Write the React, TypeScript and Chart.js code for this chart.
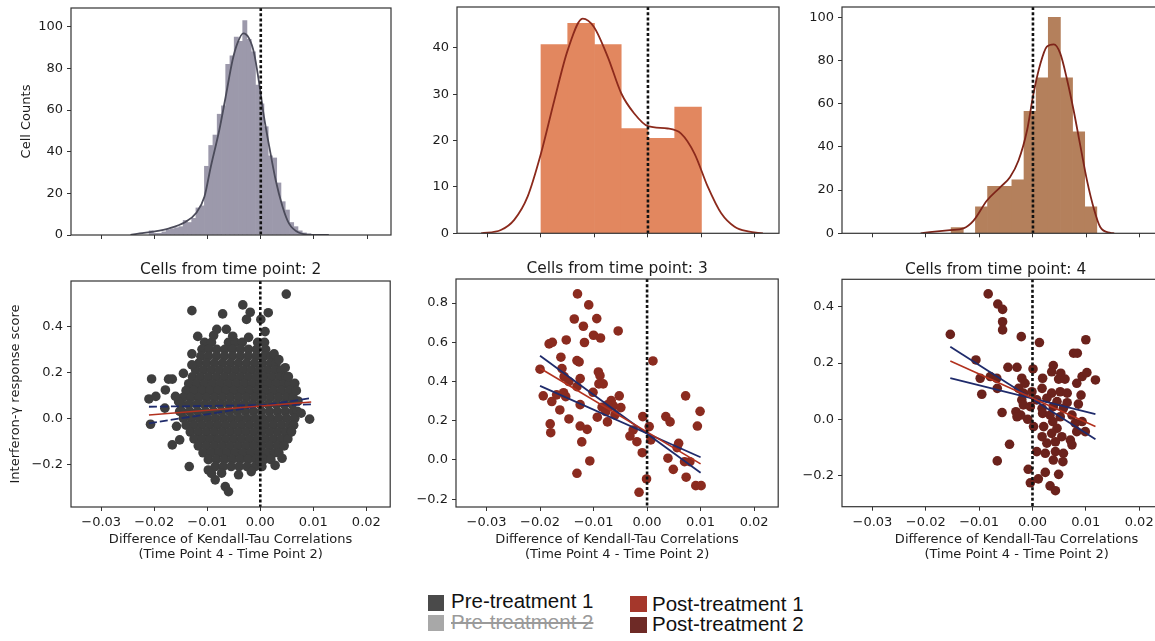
import React, { useEffect, useRef } from "react";
import { Chart, registerables } from "chart.js";

Chart.register(...registerables);

const FONT = '"DejaVu Sans", sans-serif';
const TXT = "#1c1c1c";
const AX = "#333333";

// ---------- shared axis ticks ----------
const xTickValues = [-0.03, -0.02, -0.01, 0, 0.01, 0.02];
const xMin = -0.0357;
const xMax = 0.0245;

const countTicksTp2 = [0, 20, 40, 60, 80, 100];
const countTicksTp3 = [0, 10, 20, 30, 40];
const countTicksTp4 = [0, 20, 40, 60, 80, 100];
const scoreTicksTp2 = [-0.2, 0, 0.2, 0.4];
const scoreTicksTp3 = [-0.2, 0, 0.2, 0.4, 0.6, 0.8];
const scoreTicksTp4 = [-0.2, 0, 0.2, 0.4];

// ---------- histograms (bin centres / heights) ----------
const histTp2Centers = [
  -0.0206, -0.0198, -0.019, -0.0182, -0.0174, -0.0166, -0.0158, -0.015, -0.0142, -0.0134,
  -0.0126, -0.0118, -0.011, -0.0102, -0.0094, -0.0086, -0.0078, -0.007, -0.0062, -0.0054,
  -0.0046, -0.0038, -0.003, -0.0022, -0.0014, -0.0006, 0.0002, 0.001, 0.0018, 0.0026,
  0.0034, 0.0042, 0.005, 0.0058, 0.0066, 0.0074, 0.0082, 0.009,
];
const histTp2Counts = [
  2, 0.8, 0.8, 1.5, 2.5, 3, 3.5, 4, 7, 6,
  8, 13, 14, 33, 43, 48, 58, 62, 82, 86,
  95, 93, 103, 94, 88, 72, 63, 52, 38, 37,
  25, 16, 12, 6, 4, 2, 1, 0.5,
];
const kdeTp2X = [
  -0.0245, -0.0228, -0.0203, -0.0172, -0.0141, -0.0122, -0.0106, -0.0094, -0.0078, -0.0066,
  -0.0053, -0.0044, -0.0033, -0.0022, -0.00125, -0.0003, 0.0006, 0.0016, 0.0028, 0.0041,
  0.0053, 0.0072, 0.0097, 0.0128,
];
const kdeTp2Y = [
  0, 0.8, 1.6, 3.2, 6.4, 10.4, 18.4, 32.8, 50.4, 66.4,
  84, 92, 96.8, 94.4, 87.2, 72.8, 56.8, 42.4, 26.4, 13.6,
  5.6, 1.1, 0.1, 0,
];

const histTp3Centers = [-0.0175, -0.0125, -0.0075, -0.0025, 0.0025, 0.0075];
const histTp3Counts = [40.7, 45.3, 40.7, 22.6, 20.5, 27.2];
const kdeTp3X = [
  -0.0312, -0.0275, -0.025, -0.0225, -0.02, -0.0175, -0.015, -0.0122, -0.0101, -0.0075,
  -0.005, -0.0026, 0, 0.0037, 0.0062, 0.0087, 0.0112, 0.0137, 0.0162, 0.0187, 0.0215,
];
const kdeTp3Y = [
  0, 0.7, 2.9, 7.9, 17.2, 28.7, 39.5, 46.3, 44.5, 38,
  30.2, 25.9, 23.1, 22.6, 21.5, 17.2, 10, 4.3, 1.4, 0.4, 0,
];

const histTp4Centers = [
  -0.01416, -0.01189, -0.00962, -0.00735, -0.00508, -0.00281, -0.00054, 0.00173, 0.004, 0.00627,
  0.00854, 0.01081,
];
const histTp4Counts = [2.6, 0, 12.3, 21.7, 21.7, 24.8, 56.5, 72, 100, 72, 47, 12.3];
const kdeTp4X = [
  -0.021, -0.0193, -0.0155, -0.013, -0.0111, -0.0086, -0.0061, -0.0043, -0.0027, -0.0011,
  0.0001, 0.0014, 0.0026, 0.0039, 0.0051, 0.0064, 0.0076, 0.0089, 0.0101, 0.0114,
  0.0126, 0.0145, 0.0152,
];
const kdeTp4Y = [
  0, 0.5, 1.5, 2.3, 5.9, 15.2, 21.4, 26, 33.7, 47.7,
  64.7, 78.6, 86.4, 87.5, 83.3, 70.9, 57, 40, 24.5, 11.3,
  2.8, 0.2, 0,
];

// ---------- scatter points ----------
const tp2Outliers = [
  [0.0049, 0.54], [-0.0129, 0.468], [-0.0071, 0.454], [-0.0033, 0.493], [-0.0019, 0.461],
  [0.0015, 0.459], [-0.0026, 0.43], [0.0001, 0.43], [-0.0082, 0.387], [-0.0064, 0.387],
  [0.0009, 0.377], [-0.0129, 0.28], [-0.0129, 0.232], [0.0026, 0.28], [-0.0205, 0.171],
  [-0.0173, 0.17], [-0.0166, 0.17], [0.0065, 0.152], [0.0053, 0.181], [-0.0179, 0.123],
  [-0.021, 0.084], [0.0093, -0.004], [0.0059, -0.058], [-0.0166, -0.116], [-0.0152, -0.094],
  [-0.0134, -0.21], [0.0041, -0.174], [-0.0085, -0.268], [-0.0066, -0.297], [-0.006, -0.319],
  [-0.0098, -0.225], [-0.0073, -0.239], [-0.0041, -0.246], [-0.0017, -0.232], [-0.0001, -0.189],
  [-0.018, 0.044], [-0.0207, -0.026], [0.0077, 0.022], [-0.0197, 0.095], [-0.0154, 0.072],
  [-0.016, 0.095], [-0.0118, 0.356], [-0.0088, 0.36], [-0.0052, 0.357], [-0.0022, 0.352],
  [-0.0092, -0.24], [0.0028, -0.205], [0.0071, 0.075], [0.0068, 0.12], [-0.0158, -0.035],
  [-0.0152, 0.03], [-0.0145, 0.195], [0.0047, 0.22], [0.0035, 0.255],
];
const tp2CoreRows: [number, number[]][] = [
  [0.33, [-0.0105, -0.0092, -0.006, -0.0047, -0.0034, -0.0005, 0.0008]],
  [0.3, [-0.011, -0.0097, -0.0082, -0.0067, -0.0052, -0.0037, -0.0022, -0.0007, 0.001]],
  [0.27, [-0.0112, -0.0098, -0.0083, -0.0068, -0.0053, -0.0038, -0.0023, -0.0008, 0.0007, 0.002]],
  [0.24, [-0.0116, -0.0101, -0.0086, -0.0071, -0.0056, -0.0041, -0.0026, -0.0011, 0.0004, 0.0019, 0.003]],
  [0.21, [-0.0122, -0.0107, -0.0092, -0.0077, -0.0062, -0.0047, -0.0032, -0.0017, -0.0002, 0.0013, 0.0028, 0.004]],
  [0.18, [-0.0128, -0.0113, -0.0098, -0.0083, -0.0068, -0.0053, -0.0038, -0.0023, -0.0008, 0.0007, 0.0022, 0.0037, 0.0048]],
  [0.15, [-0.0135, -0.012, -0.0105, -0.009, -0.0075, -0.006, -0.0045, -0.003, -0.0015, 0, 0.0015, 0.003, 0.0045, 0.0055]],
  [0.12, [-0.014, -0.0125, -0.011, -0.0095, -0.008, -0.0065, -0.005, -0.0035, -0.002, -0.0005, 0.001, 0.0025, 0.004, 0.0055]],
  [0.09, [-0.0146, -0.0131, -0.0116, -0.0101, -0.0086, -0.0071, -0.0056, -0.0041, -0.0026, -0.0011, 0.0004, 0.0019, 0.0034, 0.0049, 0.0062]],
  [0.06, [-0.015, -0.0135, -0.012, -0.0105, -0.009, -0.0075, -0.006, -0.0045, -0.003, -0.0015, 0, 0.0015, 0.003, 0.0045, 0.006]],
  [0.03, [-0.0148, -0.0133, -0.0118, -0.0103, -0.0088, -0.0073, -0.0058, -0.0043, -0.0028, -0.0013, 0.0002, 0.0017, 0.0032, 0.0047, 0.0062, 0.007]],
  [0.0, [-0.0145, -0.013, -0.0115, -0.01, -0.0085, -0.007, -0.0055, -0.004, -0.0025, -0.001, 0.0005, 0.002, 0.0035, 0.005, 0.0065]],
  [-0.03, [-0.014, -0.0125, -0.011, -0.0095, -0.008, -0.0065, -0.005, -0.0035, -0.002, -0.0005, 0.001, 0.0025, 0.004, 0.0055, 0.0063]],
  [-0.06, [-0.0132, -0.0117, -0.0102, -0.0087, -0.0072, -0.0057, -0.0042, -0.0027, -0.0012, 0.0003, 0.0018, 0.0033, 0.0048, 0.0058]],
  [-0.09, [-0.0125, -0.011, -0.0095, -0.008, -0.0065, -0.005, -0.0035, -0.002, -0.0005, 0.001, 0.0025, 0.004, 0.0052]],
  [-0.12, [-0.0117, -0.0102, -0.0087, -0.0072, -0.0057, -0.0042, -0.0027, -0.0012, 0.0003, 0.0018, 0.0033, 0.0045]],
  [-0.15, [-0.0108, -0.0093, -0.0078, -0.0063, -0.0048, -0.0033, -0.0018, -0.0003, 0.0012, 0.0027, 0.0035]],
  [-0.18, [-0.0098, -0.0083, -0.0068, -0.0053, -0.0038, -0.0023, -0.0008, 0.0007, 0.002]],
  [-0.21, [-0.0085, -0.007, -0.0055, -0.004, -0.0025, -0.001, 0.0003]],
];

const tp3Points = [
  [-0.013, 0.847], [-0.0109, 0.791], [-0.0136, 0.719], [-0.0094, 0.721], [-0.0119, 0.682],
  [-0.0054, 0.658], [-0.01, 0.636], [-0.0087, 0.622], [-0.0183, 0.592], [-0.0177, 0.6],
  [-0.0151, 0.612], [-0.0117, 0.599], [-0.0161, 0.524], [-0.0131, 0.507], [-0.0127, 0.5],
  [0.0011, 0.505], [-0.02, 0.463], [-0.0159, 0.466], [-0.0091, 0.449], [-0.0088, 0.43],
  [-0.0155, 0.425], [-0.0125, 0.415], [-0.0146, 0.4], [-0.009, 0.388], [-0.0082, 0.388],
  [-0.0131, 0.374], [-0.0101, 0.345], [-0.0194, 0.327], [-0.0156, 0.343], [-0.0152, 0.323],
  [-0.0169, 0.332], [-0.0052, 0.327], [-0.0178, 0.298], [-0.0067, 0.303], [-0.0125, 0.282],
  [-0.0063, 0.276], [-0.0049, 0.267], [-0.0084, 0.269], [-0.0163, 0.255], [-0.0077, 0.247],
  [-0.0093, 0.218], [-0.0146, 0.209], [-0.0074, 0.194], [-0.0181, 0.184], [-0.0125, 0.173],
  [-0.0112, 0.156], [-0.018, 0.139], [-0.0008, 0.221], [0.0035, 0.221], [0.0043, 0.194],
  [0.0004, 0.17], [-0.0026, 0.153], [-0.0032, 0.122], [-0.0019, 0.093], [0.0007, 0.102],
  [-0.0122, 0.092], [-0.0009, 0.037], [0.0072, 0.327], [0.0099, 0.248], [0.0094, 0.173],
  [0.0059, 0.085], [0.0056, 0.063], [0.0039, 0.009], [0.0049, -0.048], [0.007, -0.009],
  [0.008, -0.009], [0.0073, -0.088], [-0.0107, -0.005], [-0.0131, -0.068], [-0.0001, -0.097],
  [-0.0015, -0.165], [0.0091, -0.131], [0.0101, -0.131], [-0.0074, 0.281], [-0.006, 0.23],
];

const tp4Points = [
  [-0.0083, 0.446], [-0.0065, 0.41], [-0.0056, 0.391], [-0.0056, 0.347], [-0.0056, 0.318],
  [-0.0154, 0.302], [-0.0021, 0.294], [0.0013, 0.273], [0.01, 0.283], [0.0077, 0.235],
  [0.0084, 0.235], [-0.0106, 0.211], [-0.0046, 0.185], [-0.0029, 0.185], [0.0001, 0.179],
  [0.0039, 0.191], [0.0036, 0.169], [0.0053, 0.164], [-0.0098, 0.146], [-0.0079, 0.152],
  [-0.0067, 0.146], [-0.002, 0.146], [-0.0014, 0.128], [0.0019, 0.146], [0.0049, 0.143],
  [0.0061, 0.143], [0.0093, 0.152], [0.0102, 0.166], [0.0118, 0.14], [-0.0095, 0.089],
  [-0.0066, 0.11], [-0.0026, 0.11], [-0.0017, 0.093], [-0.0001, 0.098], [0.0018, 0.11],
  [0.0036, 0.093], [0.0052, 0.098], [0.0065, 0.093], [0.0083, 0.128], [0.0091, 0.086],
  [-0.002, 0.069], [0.0008, 0.069], [0.0027, 0.075], [0.0046, 0.063], [0.0065, 0.059],
  [0.0086, 0.054], [-0.0017, 0.051], [-0.0004, 0.045], [0.0018, 0.039], [0.0039, 0.045],
  [0.0058, 0.039], [-0.0057, 0.024], [-0.0031, 0.027], [-0.0022, 0.015], [-0.0009, 0.0],
  [0.0019, 0.021], [0.0033, 0.015], [0.0052, 0.009], [0.0074, 0.015], [0.0093, -0.008],
  [0.0083, -0.044], [0.0099, -0.044], [0.0002, -0.026], [0.0021, -0.026], [0.0038, -0.008],
  [0.0046, -0.032], [0.0018, -0.062], [0.0036, -0.05], [0.0055, -0.062], [0.0027, -0.085],
  [0.0043, -0.08], [0.0071, -0.074], [0.0074, -0.091], [0.0008, -0.115], [0.0024, -0.121],
  [0.0043, -0.115], [0.0058, -0.121], [0.0039, -0.145], [0.0057, -0.151], [-0.0043, -0.089],
  [-0.0066, -0.148], [-0.0008, -0.178], [0.0011, -0.212], [0.0024, -0.189], [0.0049, -0.196],
  [-0.0004, -0.226], [0.0033, -0.237], [0.0043, -0.254], [0.008, -0.014], [-0.0029, 0.009],
];

// ---------- regression fit & bound lines (end points) ----------
const tp2FitLine = [[-0.021, 0.014], [0.0096, 0.071]];
const tp2BoundA = [[-0.021, 0.05], [0.0096, 0.06]];
const tp2BoundB = [[-0.021, -0.022], [0.0096, 0.088]];
const tp3FitLine = [[-0.02, 0.468], [0.01, -0.02]];
const tp3BoundA = [[-0.02, 0.531], [0.01, -0.065]];
const tp3BoundB = [[-0.02, 0.378], [0.01, 0.014]];
const tp4FitLine = [[-0.0154, 0.207], [0.0118, -0.026]];
const tp4BoundA = [[-0.0154, 0.258], [0.0118, -0.071]];
const tp4BoundB = [[-0.0154, 0.146], [0.0118, 0.018]];

// ---------- text ----------
const panelTitles = ["Cells from time point: 2", "Cells from time point: 3", "Cells from time point: 4"];
const xAxisLabel = ["Difference of Kendall-Tau Correlations", "(Time Point 4 - Time Point 2)"];
const histYLabel = "Cell Counts";
const scatterYLabel = "Interferon-\u03b3 response score";

// ---------- colours ----------
const RED_LINE = "#b2311e";
const BLUE_LINE = "#1f2b6b";

function fmt(v: number, d: number) {
  const s = Math.abs(v) < 1e-12 ? (0).toFixed(d) : v.toFixed(d);
  return s.replace("-", "\u2212");
}

const tickFont = { family: FONT, size: 13, lineHeight: 1.2 };

function xScale(showLabels: boolean, height: number) {
  return {
    type: "linear",
    position: "bottom",
    min: xMin,
    max: xMax,
    bounds: "data",
    offset: false,
    afterBuildTicks: (s: any) => {
      s.ticks = xTickValues.map((v) => ({ value: v }));
    },
    afterFit: (s: any) => {
      s.height = height;
      s.paddingLeft = 0;
      s.paddingRight = 0;
      s.paddingTop = 0;
      s.paddingBottom = 0;
    },
    grid: { display: true, drawOnChartArea: false, drawTicks: true, tickLength: 4, color: AX, lineWidth: 1, offset: false },
    border: { display: false },
    ticks: {
      display: showLabels,
      autoSkip: false,
      maxRotation: 0,
      padding: 4,
      color: TXT,
      font: tickFont,
      callback: (v: any) => fmt(Number(v), 2),
    },
  };
}

function yScale(min: number, max: number, ticks: number[], digits: number, width: number) {
  return {
    type: "linear",
    position: "left",
    min,
    max,
    bounds: "data",
    afterBuildTicks: (s: any) => {
      s.ticks = ticks.map((v) => ({ value: v }));
    },
    afterFit: (s: any) => {
      s.width = width;
      s.paddingLeft = 0;
      s.paddingRight = 0;
      s.paddingTop = 0;
      s.paddingBottom = 0;
    },
    grid: { display: true, drawOnChartArea: false, drawTicks: true, tickLength: 4, color: AX, lineWidth: 1 },
    border: { display: false },
    ticks: {
      autoSkip: false,
      padding: 4,
      color: TXT,
      font: tickFont,
      callback: (v: any) => fmt(Number(v), digits),
    },
  };
}

type LabelCfg = {
  title?: string;
  titleGap?: number;
  titleDx?: number;
  xLabel?: string[];
  xLabelDx?: number;
  yLabel?: string;
  yLabelGap?: number;
};

function makePlugins(lbl: LabelCfg) {
  const zeroLine = {
    id: "zeroLine",
    afterDatasetsDraw(chart: any) {
      const { ctx, chartArea: a } = chart;
      const x = chart.scales.x.getPixelForValue(0);
      ctx.save();
      ctx.strokeStyle = "#111111";
      ctx.lineWidth = 2.6;
      ctx.setLineDash([3, 2.2]);
      ctx.beginPath();
      ctx.moveTo(x, a.top);
      ctx.lineTo(x, a.bottom);
      ctx.stroke();
      ctx.restore();
    },
  };
  const frame = {
    id: "frame",
    afterDraw(chart: any) {
      const { ctx, chartArea: a } = chart;
      ctx.save();
      ctx.strokeStyle = AX;
      ctx.lineWidth = 1.2;
      ctx.strokeRect(a.left, a.top, a.right - a.left, a.bottom - a.top);
      ctx.restore();
    },
  };
  const labels = {
    id: "panelLabels",
    afterDraw(chart: any) {
      const { ctx, chartArea: a } = chart;
      const cx = (a.left + a.right) / 2;
      ctx.save();
      ctx.fillStyle = TXT;
      ctx.textAlign = "center";
      ctx.textBaseline = "middle";
      if (lbl.title) {
        ctx.font = `15.4px ${FONT}`;
        ctx.fillText(lbl.title, cx + (lbl.titleDx || 0), a.top - (lbl.titleGap || 11));
      }
      if (lbl.xLabel) {
        ctx.font = `13px ${FONT}`;
        lbl.xLabel.forEach((line, i) => {
          ctx.fillText(line, cx + (lbl.xLabelDx || 0), a.bottom + 32.6 + i * 15.5);
        });
      }
      if (lbl.yLabel) {
        ctx.font = `13px ${FONT}`;
        ctx.translate(a.left - (lbl.yLabelGap || 44), (a.top + a.bottom) / 2);
        ctx.rotate(-Math.PI / 2);
        ctx.fillText(lbl.yLabel, 0, 0);
      }
      ctx.restore();
    },
  };
  return [zeroLine, frame, labels];
}

function baseOptions(padding: any, scales: any) {
  return {
    responsive: false,
    animation: false,
    events: [],
    layout: { padding },
    plugins: { legend: { display: false }, tooltip: { enabled: false }, title: { display: false } },
    scales,
  };
}

function histConfig(p: {
  centers: number[];
  counts: number[];
  kdeX: number[];
  kdeY: number[];
  barColor: string;
  lineColor: string;
  yMax: number;
  yTicks: number[];
  yWidth: number;
  padding: any;
  labels: LabelCfg;
}) {
  return {
    type: "bar",
    data: {
      datasets: [
        {
          type: "line",
          data: p.kdeX.map((x, i) => ({ x, y: p.kdeY[i] })),
          borderColor: p.lineColor,
          borderWidth: 1.8,
          pointRadius: 0,
          cubicInterpolationMode: "monotone",
          fill: false,
          order: 0,
        },
        {
          type: "bar",
          data: p.centers.map((x, i) => ({ x, y: p.counts[i] })),
          backgroundColor: p.barColor,
          borderWidth: 0,
          barPercentage: 1,
          categoryPercentage: 1,
          grouped: false,
          order: 1,
        },
      ],
    },
    options: baseOptions(p.padding, {
      x: xScale(false, 12),
      y: yScale(0, p.yMax, p.yTicks, 0, p.yWidth),
    }),
    plugins: makePlugins(p.labels),
  };
}

function linePts(pts: number[][]) {
  return pts.map(([x, y]) => ({ x, y }));
}

function scatterConfig(p: {
  points: number[][];
  color: string;
  fit: number[][];
  boundA: number[][];
  boundB: number[][];
  dashBounds: boolean;
  yMin: number;
  yMax: number;
  yTicks: number[];
  yWidth: number;
  padding: any;
  labels: LabelCfg;
}) {
  const dash = p.dashBounds ? [8, 3] : [];
  return {
    type: "scatter",
    data: {
      datasets: [
        { data: linePts(p.fit), showLine: true, borderColor: RED_LINE, borderWidth: 1.6, pointRadius: 0, order: 0 },
        { data: linePts(p.boundA), showLine: true, borderColor: BLUE_LINE, borderWidth: 1.8, borderDash: dash, pointRadius: 0, order: 0 },
        { data: linePts(p.boundB), showLine: true, borderColor: BLUE_LINE, borderWidth: 1.8, borderDash: dash, pointRadius: 0, order: 0 },
        {
          data: p.points.map(([x, y]) => ({ x, y })),
          backgroundColor: p.color,
          borderWidth: 0,
          pointRadius: 4.8,
          order: 1,
        },
      ],
    },
    options: baseOptions(p.padding, {
      x: xScale(true, 56),
      y: yScale(p.yMin, p.yMax, p.yTicks, 1, p.yWidth),
    }),
    plugins: makePlugins(p.labels),
  };
}

type Box = { x: number; y: number; w: number; h: number };

function ChartCanvas({ box, make }: { box: Box; make: () => any }) {
  const ref = useRef<HTMLCanvasElement | null>(null);
  useEffect(() => {
    if (!ref.current) return;
    const chart = new Chart(ref.current, make());
    return () => chart.destroy();
  }, []);
  return (
    <canvas
      ref={ref}
      width={box.w}
      height={box.h}
      style={{ position: "absolute", left: box.x, top: box.y, width: box.w, height: box.h }}
    />
  );
}

const tp2Points = [
  ...tp2CoreRows.flatMap(([y, xs]) => xs.map((x) => [x, y])),
  ...tp2Outliers,
];

function LegendItem(props: { sq: Box; color: string; text: string; tx: number; ty: number; muted?: boolean }) {
  const { sq, color, text, tx, ty, muted } = props;
  return (
    <>
      <div style={{ position: "absolute", left: sq.x, top: sq.y, width: sq.w, height: sq.h, background: color }} />
      <div
        style={{
          position: "absolute",
          left: tx,
          top: ty,
          font: '20.5px "Liberation Sans", Arial, sans-serif',
          lineHeight: "20px",
          whiteSpace: "nowrap",
          color: muted ? "#9a9a9a" : "#111111",
          textDecoration: muted ? "line-through" : "none",
        }}
      >
        {text}
      </div>
    </>
  );
}

export default function App() {
  Chart.defaults.font.family = FONT;
  return (
    <div
      style={{
        position: "absolute",
        left: 0,
        top: 0,
        width: 1155,
        height: 641,
        overflow: "hidden",
        background: "#ffffff",
      }}
    >
      <ChartCanvas
        box={{ x: 0, y: 0, w: 395, h: 250 }}
        make={() =>
          histConfig({
            centers: histTp2Centers,
            counts: histTp2Counts,
            kdeX: kdeTp2X,
            kdeY: kdeTp2Y,
            barColor: "#9c99ab",
            lineColor: "#4b4b5a",
            yMax: 109,
            yTicks: countTicksTp2,
            yWidth: 71,
            padding: { top: 8, right: 4, bottom: 3, left: 0 },
            labels: { yLabel: histYLabel, yLabelGap: 44 },
          })
        }
      />
      <ChartCanvas
        box={{ x: 407, y: 0, w: 376, h: 250 }}
        make={() =>
          histConfig({
            centers: histTp3Centers,
            counts: histTp3Counts,
            kdeX: kdeTp3X,
            kdeY: kdeTp3Y,
            barColor: "#e2875f",
            lineColor: "#8c2a1c",
            yMax: 48.8,
            yTicks: countTicksTp3,
            yWidth: 50,
            padding: { top: 7, right: 4, bottom: 4.7, left: 0 },
            labels: {},
          })
        }
      />
      <ChartCanvas
        box={{ x: 792, y: 0, w: 376, h: 250 }}
        make={() =>
          histConfig({
            centers: histTp4Centers,
            counts: histTp4Counts,
            kdeX: kdeTp4X,
            kdeY: kdeTp4Y,
            barColor: "#b4805c",
            lineColor: "#7e2419",
            yMax: 104.8,
            yTicks: countTicksTp4,
            yWidth: 50,
            padding: { top: 7, right: 4, bottom: 4.7, left: 0 },
            labels: {},
          })
        }
      />
      <ChartCanvas
        box={{ x: 0, y: 250, w: 395, h: 320 }}
        make={() =>
          scatterConfig({
            points: tp2Points,
            color: "#3e3e3e",
            fit: tp2FitLine,
            boundA: tp2BoundA,
            boundB: tp2BoundB,
            dashBounds: true,
            yMin: -0.386,
            yMax: 0.597,
            yTicks: scoreTicksTp2,
            yWidth: 71,
            padding: { top: 31, right: 4, bottom: 7, left: 0 },
            labels: { title: panelTitles[0], titleGap: 11.5, xLabel: xAxisLabel, yLabel: scatterYLabel, yLabelGap: 55 },
          })
        }
      />
      <ChartCanvas
        box={{ x: 406, y: 250, w: 377, h: 320 }}
        make={() =>
          scatterConfig({
            points: tp3Points,
            color: "#8b2b1f",
            fit: tp3FitLine,
            boundA: tp3BoundA,
            boundB: tp3BoundB,
            dashBounds: false,
            yMin: -0.24,
            yMax: 0.923,
            yTicks: scoreTicksTp3,
            yWidth: 50,
            padding: { top: 29, right: 4, bottom: 7, left: 0 },
            labels: { title: panelTitles[1], titleGap: 10, xLabel: xAxisLabel },
          })
        }
      />
      <ChartCanvas
        box={{ x: 792, y: 250, w: 376, h: 320 }}
        make={() =>
          scatterConfig({
            points: tp4Points,
            color: "#6b221c",
            fit: tp4FitLine,
            boundA: tp4BoundA,
            boundB: tp4BoundB,
            dashBounds: false,
            yMin: -0.311,
            yMax: 0.498,
            yTicks: scoreTicksTp4,
            yWidth: 50,
            padding: { top: 29.3, right: 4, bottom: 7.3, left: 0 },
            labels: { title: panelTitles[2], titleGap: 9, titleDx: -7, xLabel: xAxisLabel, xLabelDx: 14 },
          })
        }
      />
      <LegendItem sq={{ x: 428, y: 595, w: 16, h: 16 }} color="#4a4a4a" text="Pre-treatment 1" tx={451} ty={591} />
      <LegendItem sq={{ x: 428, y: 615, w: 16, h: 16 }} color="#a8a8a8" text="Pre-treatment 2" tx={451} ty={612} muted />
      <LegendItem sq={{ x: 630, y: 596, w: 17, h: 16 }} color="#a5372b" text="Post-treatment 1" tx={652} ty={593.6} />
      <LegendItem sq={{ x: 630, y: 617, w: 17, h: 16 }} color="#6e2a26" text="Post-treatment 2" tx={652} ty={613.6} />
    </div>
  );
}
